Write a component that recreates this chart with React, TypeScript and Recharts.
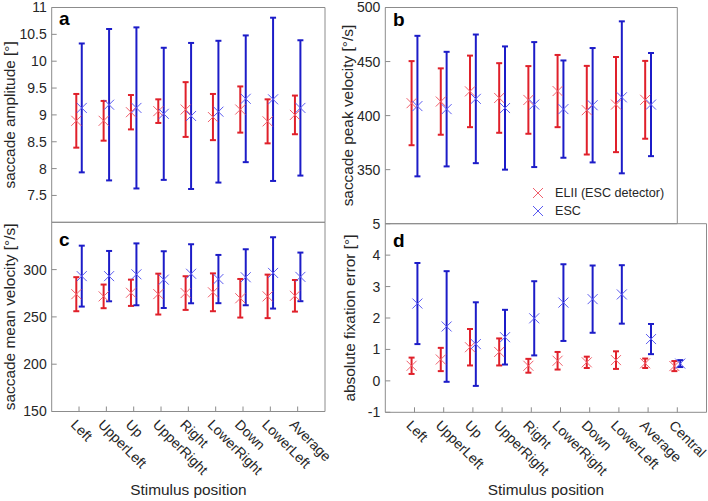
import React from 'react';
import { ScatterChart, Scatter, XAxis, YAxis, ErrorBar, Legend } from 'recharts';

// ---------- data ----------
const positions9 = ['Left', 'UpperLeft', 'Up', 'UpperRight', 'Right', 'LowerRight', 'Down', 'LowerLeft', 'Average'];
const positions10 = [...positions9, 'Central'];
const seriesNames = ['ELII (ESC detector)', 'ESC'];

// a: saccade amplitude [deg]
const ampElMean = [8.89, 8.89, 9.05, 9.07, 9.1, 8.96, 9.1, 8.88, 9.0];
const ampElSd = [0.5, 0.37, 0.32, 0.22, 0.51, 0.43, 0.43, 0.41, 0.36];
const ampEscMean = [9.13, 9.19, 9.13, 9.02, 8.98, 9.06, 9.3, 9.29, 9.13];
const ampEscSd = [1.2, 1.41, 1.5, 1.23, 1.36, 1.32, 1.18, 1.52, 1.26];
const ampTicks = [7.5, 8, 8.5, 9, 9.5, 10, 10.5, 11];

// b: saccade peak velocity [deg/s]
const peakElMean = [411.5, 413, 422.4, 416.3, 414.5, 422.7, 405, 410.2, 414.6];
const peakElSd = [38.9, 30.7, 33.1, 32.2, 31.3, 33.4, 41, 44, 36];
const peakEscMean = [408.8, 406, 415.5, 407, 410.2, 406, 409.6, 416.9, 410.2];
const peakEscSd = [65, 53, 59.5, 57, 57.8, 45, 52.9, 70.3, 47.7];
const peakTicks = [350, 400, 450, 500];

// c: saccade mean velocity [deg/s]
const meanElMean = [274, 271.7, 275.5, 274.1, 275.2, 276, 269.7, 271.7, 272.3];
const meanElSd = [18, 12.5, 13.9, 21.6, 17.8, 20, 20.4, 23, 16.7];
const meanEscMean = [293.1, 293.1, 295, 289.4, 295.6, 290, 291.9, 296.5, 292.3];
const meanEscSd = [32.2, 26.6, 32.7, 30, 31.2, 25.5, 29.6, 37.7, 25.7];
const meanTicks = [150, 200, 250, 300];

// d: absolute fixation error [deg]
const errElMean = [0.48, 0.68, 1.07, 0.92, 0.48, 0.64, 0.59, 0.66, 0.56, 0.47];
const errElSd = [0.26, 0.37, 0.58, 0.43, 0.22, 0.28, 0.18, 0.28, 0.15, 0.16];
const errEscMean = [2.46, 1.73, 1.17, 1.39, 1.99, 2.49, 2.6, 2.75, 1.33, 0.55];
const errEscSd = [1.29, 1.76, 1.33, 0.87, 1.18, 1.22, 1.07, 0.93, 0.48, 0.11];
const errTicks = [-1, 0, 1, 2, 3, 4, 5];

// ---------- style ----------
const W = 708;
const H = 501;
const YW = 40;
const XH = 40;
const OFF = 0.1;
const FONT = '"Liberation Sans", Arial, Helvetica, sans-serif';
const BOX = '#8c8c8c';
const TXT = '#262626';
const RED = '#e0202a';
const RED_M = '#f0606c';
const BLUE = '#1c1cc8';
const BLUE_M = '#5a5af0';

const XMark = ({ cx, cy, color }: { cx: number; cy: number; color: string }) => (
  <g>
    <line x1={cx - 5} y1={cy - 5} x2={cx + 5} y2={cy + 5} stroke={color} strokeWidth={1} />
    <line x1={cx - 5} y1={cy + 5} x2={cx + 5} y2={cy - 5} stroke={color} strokeWidth={1} />
  </g>
);

const CatTick = (props: any) => {
  const { x, y, payload, names } = props;
  const label = names[Math.round(payload.value) - 1];
  if (!label) return null;
  const ax = x - 9;
  const ay = y + 14;
  return (
    <text x={ax} y={ay} transform={`rotate(45, ${ax}, ${ay})`} fontSize={14} fill={TXT} fontFamily={FONT}>
      {label}
    </text>
  );
};

const LegendContent = () => (
  <svg width={160} height={40} style={{ display: 'block', overflow: 'visible' }}>
    {seriesNames.map((name, i) => (
      <g key={name}>
        <XMark cx={10} cy={9 + 18 * i} color={i === 0 ? RED_M : BLUE_M} />
        <text x={27} y={9 + 18 * i} dominantBaseline="central" fontSize={12.6} fill={TXT} fontFamily={FONT}>
          {name}
        </text>
      </g>
    ))}
  </svg>
);

type PanelProps = {
  left: number;
  top: number;
  right: number;
  bottom: number;
  xMax: number;
  names: string[];
  showNames: boolean;
  yDomain: [number, number];
  yTicks: number[];
  yLabel: string;
  yLabelX: number;
  elMean: number[];
  elSd: number[];
  escMean: number[];
  escSd: number[];
  legend?: boolean;
};

function Panel(p: PanelProps) {
  const cats = p.elMean.map((_, i) => i + 1);
  const elData = p.elMean.map((m, i) => ({ x: i + 1 - OFF, y: m, err: p.elSd[i] }));
  const escData = p.escMean.map((m, i) => ({ x: i + 1 + OFF, y: m, err: p.escSd[i] }));
  const margin = { left: p.left - YW, top: p.top - 1, right: W - p.right - 1, bottom: H - p.bottom - XH };
  const tickStyle = { fill: TXT, fontSize: 14, fontFamily: FONT };
  const xLabel = (lp: any) => {
    const vb = lp.viewBox;
    return (
      <text x={vb.x + vb.width / 2} y={vb.y + 83} textAnchor="middle" fontSize={15.4} fill={TXT} fontFamily={FONT}>
        Stimulus position
      </text>
    );
  };
  const yLabel = (lp: any) => {
    const vb = lp.viewBox;
    const cy = vb.y + vb.height / 2;
    return (
      <text
        x={p.yLabelX}
        y={cy}
        transform={`rotate(-90, ${p.yLabelX}, ${cy})`}
        textAnchor="middle"
        dominantBaseline="central"
        fontSize={15.4}
        fill={TXT}
        fontFamily={FONT}
      >
        {p.yLabel}
      </text>
    );
  };
  return (
    <div style={{ position: 'absolute', left: 0, top: 0 }}>
      <ScatterChart width={W} height={H} margin={margin}>
        <XAxis
          xAxisId="b"
          type="number"
          dataKey="x"
          orientation="bottom"
          domain={[0, p.xMax]}
          ticks={cats}
          interval={0}
          allowDataOverflow
          height={XH}
          tickSize={-5}
          tickMargin={5}
          axisLine={{ stroke: BOX }}
          tickLine={{ stroke: BOX }}
          tick={p.showNames ? <CatTick names={p.names} /> : false}
          label={p.showNames ? xLabel : undefined}
        />
        <XAxis
          xAxisId="t"
          type="number"
          orientation="top"
          domain={[0, p.xMax]}
          ticks={cats}
          interval={0}
          allowDataOverflow
          height={1}
          tickSize={-5}
          axisLine={{ stroke: BOX }}
          tickLine={{ stroke: BOX }}
          tick={false}
        />
        <YAxis
          yAxisId="l"
          type="number"
          dataKey="y"
          orientation="left"
          domain={p.yDomain}
          ticks={p.yTicks}
          interval={0}
          allowDataOverflow
          width={YW}
          tickSize={-5}
          tickMargin={10}
          axisLine={{ stroke: BOX }}
          tickLine={{ stroke: BOX }}
          tick={tickStyle}
          label={yLabel}
        />
        <YAxis
          yAxisId="r"
          type="number"
          orientation="right"
          domain={p.yDomain}
          ticks={p.yTicks}
          interval={0}
          allowDataOverflow
          width={1}
          tickSize={-5}
          axisLine={{ stroke: BOX }}
          tickLine={{ stroke: BOX }}
          tick={false}
        />
        <Scatter
          name={seriesNames[0]}
          xAxisId="b"
          yAxisId="l"
          data={elData}
          isAnimationActive={false}
          shape={(sp: any) => <XMark cx={sp.cx} cy={sp.cy} color={RED_M} />}
        >
          <ErrorBar dataKey="err" direction="y" width={3} stroke={RED} strokeWidth={2} isAnimationActive={false} />
        </Scatter>
        <Scatter
          name={seriesNames[1]}
          xAxisId="b"
          yAxisId="l"
          data={escData}
          isAnimationActive={false}
          shape={(sp: any) => <XMark cx={sp.cx} cy={sp.cy} color={BLUE_M} />}
        >
          <ErrorBar dataKey="err" direction="y" width={3} stroke={BLUE} strokeWidth={2} isAnimationActive={false} />
        </Scatter>
        {p.legend ? (
          <Legend
            layout="horizontal"
            verticalAlign="middle"
            align="center"
            wrapperStyle={{ left: 528, top: 184, width: 160, height: 40 }}
            content={() => <LegendContent />}
          />
        ) : null}
      </ScatterChart>
    </div>
  );
}

const letterStyle = { fontSize: 19, fontWeight: 700, fill: '#000', fontFamily: FONT } as const;

export default function App() {
  return (
    <div style={{ position: 'relative', width: W, height: H, background: '#fff', overflow: 'hidden' }}>
      <style>{'body{margin:0;}'}</style>
      <Panel
        left={51.7} top={7.5} right={325} bottom={222.3} xMax={10}
        names={positions9} showNames={false}
        yDomain={[7, 11]} yTicks={ampTicks} yLabel="saccade amplitude [°]" yLabelX={9.6}
        elMean={ampElMean} elSd={ampElSd} escMean={ampEscMean} escSd={ampEscSd}
      />
      <Panel
        left={385.3} top={7.5} right={677.3} bottom={223.7} xMax={10}
        names={positions9} showNames={false}
        yDomain={[300, 500]} yTicks={peakTicks} yLabel="saccade peak velocity [°/s]" yLabelX={347.5}
        elMean={peakElMean} elSd={peakElSd} escMean={peakEscMean} escSd={peakEscSd}
        legend
      />
      <Panel
        left={51.7} top={222.3} right={325} bottom={411.5} xMax={10}
        names={positions9} showNames
        yDomain={[150, 350]} yTicks={meanTicks} yLabel="saccade mean velocity [°/s]" yLabelX={9.4}
        elMean={meanElMean} elSd={meanElSd} escMean={meanEscMean} escSd={meanEscSd}
      />
      <Panel
        left={385.3} top={223.7} right={706.5} bottom={412.3} xMax={11}
        names={positions10} showNames
        yDomain={[-1, 5]} yTicks={errTicks} yLabel="absolute fixation error [°]" yLabelX={349}
        elMean={errElMean} elSd={errElSd} escMean={errEscMean} escSd={errEscSd}
      />
      <svg width={W} height={H} style={{ position: 'absolute', left: 0, top: 0, pointerEvents: 'none' }}>
        <text x={59} y={25} {...letterStyle}>a</text>
        <text x={393} y={25.5} {...letterStyle}>b</text>
        <text x={59} y={246} {...letterStyle}>c</text>
        <text x={393} y={246.5} {...letterStyle}>d</text>
      </svg>
    </div>
  );
}
